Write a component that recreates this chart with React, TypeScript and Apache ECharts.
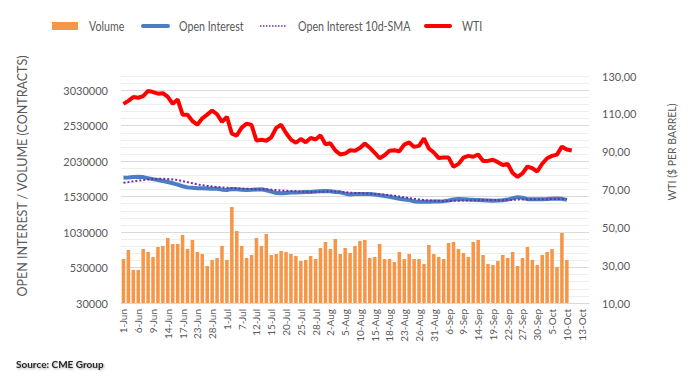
import { useEffect, useRef } from 'react';
import * as echarts from 'echarts';

const categories = [
  '1-Jun','2-Jun','3-Jun','6-Jun','7-Jun','8-Jun','9-Jun','10-Jun','13-Jun','14-Jun','15-Jun','16-Jun','17-Jun','21-Jun','22-Jun','23-Jun','24-Jun','27-Jun','28-Jun','29-Jun','30-Jun',
  '1-Jul','5-Jul','6-Jul','7-Jul','8-Jul','11-Jul','12-Jul','13-Jul','14-Jul','15-Jul','18-Jul','19-Jul','20-Jul','21-Jul','22-Jul','25-Jul','26-Jul','27-Jul','28-Jul','29-Jul',
  '1-Aug','2-Aug','3-Aug','4-Aug','5-Aug','8-Aug','9-Aug','10-Aug','11-Aug','12-Aug','15-Aug','16-Aug','17-Aug','18-Aug','19-Aug','22-Aug','23-Aug','24-Aug','25-Aug','26-Aug','29-Aug','30-Aug','31-Aug',
  '1-Sep','2-Sep','6-Sep','7-Sep','8-Sep','9-Sep','12-Sep','13-Sep','14-Sep','15-Sep','16-Sep','19-Sep','20-Sep','21-Sep','22-Sep','23-Sep','26-Sep','27-Sep','28-Sep','29-Sep','30-Sep',
  '3-Oct','4-Oct','5-Oct','6-Oct','7-Oct','10-Oct','11-Oct','12-Oct','13-Oct','14-Oct'
];

const volume = [
  650000, 777000, 495000, 495000, 791000, 749000, 678000, 820000, 834000, 946000,
  862000, 862000, 989000, 791000, 918000, 749000, 721000, 552000, 636000, 664000,
  834000, 636000, 1383000, 1045000, 834000, 664000, 707000, 946000, 834000, 1003000,
  707000, 721000, 763000, 749000, 721000, 693000, 622000, 636000, 693000, 650000,
  805000, 890000, 791000, 932000, 721000, 805000, 735000, 834000, 904000, 918000,
  664000, 678000, 862000, 650000, 650000, 608000, 749000, 650000, 721000, 650000,
  650000, 580000, 848000, 721000, 678000, 650000, 876000, 890000, 791000, 735000,
  678000, 890000, 918000, 707000, 580000, 566000, 622000, 707000, 664000, 749000,
  552000, 664000, 820000, 636000, 566000, 707000, 749000, 791000, 538000, 1017000,
  636000
];

const openInterest = [
  1796000, 1800000, 1806000, 1810000, 1805000, 1790000, 1776000, 1764000, 1750000, 1736000,
  1718000, 1698000, 1676000, 1660000, 1655000, 1648000, 1646000, 1644000, 1642000, 1640000,
  1628000, 1622000, 1636000, 1632000, 1628000, 1624000, 1626000, 1630000, 1634000, 1620000,
  1600000, 1580000, 1576000, 1582000, 1586000, 1588000, 1590000, 1594000, 1596000, 1602000,
  1606000, 1610000, 1604000, 1596000, 1590000, 1572000, 1560000, 1566000, 1568000, 1566000,
  1567000, 1560000, 1548000, 1538000, 1528000, 1514000, 1500000, 1490000, 1480000, 1462000,
  1458000, 1456000, 1458000, 1460000, 1462000, 1466000, 1474000, 1488000, 1496000, 1494000,
  1488000, 1484000, 1482000, 1480000, 1476000, 1472000, 1474000, 1478000, 1488000, 1506000,
  1522000, 1514000, 1494000, 1492000, 1492000, 1494000, 1496000, 1500000, 1502000, 1498000,
  1484000
];

const openInterestSma = [
  1726000, 1735000, 1745000, 1755000, 1765000, 1772000, 1778000, 1780000, 1780000, 1778000,
  1772000, 1762000, 1748000, 1734000, 1718000, 1702000, 1690000, 1680000, 1672000, 1666000,
  1660000, 1655000, 1650000, 1646000, 1642000, 1640000, 1638000, 1636000, 1634000, 1632000,
  1628000, 1622000, 1616000, 1612000, 1608000, 1604000, 1600000, 1596000, 1594000, 1596000,
  1598000, 1600000, 1602000, 1602000, 1598000, 1592000, 1586000, 1582000, 1580000, 1576000,
  1572000, 1568000, 1564000, 1558000, 1550000, 1542000, 1532000, 1520000, 1508000, 1498000,
  1490000, 1482000, 1476000, 1472000, 1470000, 1468000, 1468000, 1470000, 1472000, 1474000,
  1476000, 1478000, 1480000, 1482000, 1482000, 1482000, 1480000, 1480000, 1482000, 1484000,
  1488000, 1490000, 1492000, 1494000, 1494000, 1494000, 1494000, 1496000, 1496000, 1498000,
  1496000
];

const wti = [
  115.26, 116.87, 118.87, 118.5, 119.41, 122.11, 121.51, 120.67, 120.93, 118.93, 115.31, 117.59, 109.56, 109.52, 106.19, 104.27, 107.62, 109.57, 111.76, 109.78, 105.76,
  108.43, 99.5, 98.53, 102.73, 104.79, 104.09, 95.84, 96.3, 95.78, 97.59, 102.6, 104.22, 99.88, 96.35, 94.7, 96.7, 94.98, 97.26, 96.42, 98.62,
  93.89, 94.42, 90.66, 88.54, 89.01, 90.76, 90.5, 91.93, 94.34, 92.09, 89.41, 86.53, 88.11, 90.5, 90.77, 90.23, 93.74, 94.89, 92.52, 93.06, 97.01, 91.64, 89.55,
  86.61, 86.87, 86.88, 81.94, 83.54, 86.79, 87.78, 87.31, 88.48, 85.1, 85.11, 85.73, 84.45, 82.94, 83.49, 78.74, 76.71, 78.5, 82.15, 81.23, 79.49,
  83.63, 86.52, 87.76, 88.45, 92.64, 91.1, 90.6
];

const leftTicks = { min: 30000, max: 3230000, major: 500000, minor: 100000 };
const rightTicks = { min: 10, max: 130, interval: 20 };

const seriesNames = ['Volume', 'Open Interest', 'Open Interest 10d-SMA', 'WTI'];
const COLORS = { volume: '#F79646', oi: '#4A7EC2', sma: '#7030A0', wti: '#FF0000' };

const FONT = 'Lato, "Noto Sans", sans-serif';
const TXT = '#595959';

export default function App() {
  const ref = useRef<HTMLDivElement>(null);
  useEffect(() => {
    if (!ref.current) return;
    const chart = echarts.init(ref.current, undefined, { renderer: 'svg' });
    const minorPerMajor = leftTicks.major / leftTicks.minor;
    const splitColors: string[] = [];
    for (let i = 0; i < minorPerMajor; i++) splitColors.push(i === 0 ? '#D9D9D9' : '#EEEEEE');
    const legendY = 26;
    const legendText = (text: string, x: number) => ({
      type: 'text',
      x,
      y: legendY,
      scaleX: 0.82,
      style: { text, fontFamily: FONT, fontSize: 13, fill: TXT, verticalAlign: 'middle' },
    });
    chart.setOption({
      animation: false,
      textStyle: { fontFamily: FONT },
      legend: { show: false, data: seriesNames },
      grid: { left: 121, right: 109, top: 76, height: 227 },
      xAxis: {
        type: 'category',
        data: categories,
        boundaryGap: true,
        axisLine: { lineStyle: { color: '#D9D9D9' } },
        axisTick: { interval: 0, length: 4, lineStyle: { color: '#D9D9D9' } },
        axisLabel: { interval: 2, rotate: 90, fontSize: 10, color: TXT, fontFamily: FONT, margin: 6 },
        splitLine: { show: false },
      },
      yAxis: [
        {
          type: 'value',
          min: leftTicks.min,
          max: leftTicks.max,
          interval: leftTicks.minor,
          axisLine: { show: false },
          axisTick: { show: false },
          axisLabel: {
            fontSize: 11,
            color: TXT,
            fontFamily: FONT,
            margin: 13,
            formatter: (v: number) => (Math.round(v - leftTicks.min) % leftTicks.major === 0 ? String(Math.round(v)) : ''),
          },
          splitLine: { show: true, lineStyle: { color: splitColors, width: 1 } },
        },
        {
          type: 'value',
          min: rightTicks.min,
          max: rightTicks.max,
          interval: rightTicks.interval,
          position: 'right',
          axisLine: { show: false },
          axisTick: { show: false },
          splitLine: { show: false },
          axisLabel: {
            fontSize: 11,
            color: TXT,
            fontFamily: FONT,
            margin: 13,
            formatter: (v: number) => v.toFixed(2).replace('.', ','),
          },
        },
      ],
      series: [
        {
          name: seriesNames[0],
          type: 'bar',
          data: volume,
          yAxisIndex: 0,
          barCategoryGap: '28%',
          itemStyle: { color: COLORS.volume },
        },
        {
          name: seriesNames[1],
          type: 'line',
          data: openInterest,
          yAxisIndex: 0,
          symbol: 'none',
          lineStyle: { color: COLORS.oi, width: 4 },
          itemStyle: { color: COLORS.oi },
        },
        {
          name: seriesNames[2],
          type: 'line',
          data: openInterestSma,
          yAxisIndex: 0,
          symbol: 'none',
          lineStyle: { color: COLORS.sma, width: 2, type: [2, 2] },
          itemStyle: { color: COLORS.sma },
        },
        {
          name: seriesNames[3],
          type: 'line',
          data: wti,
          yAxisIndex: 1,
          symbol: 'none',
          lineStyle: { color: COLORS.wti, width: 4 },
          itemStyle: { color: COLORS.wti },
        },
      ],
      graphic: [
        { type: 'rect', shape: { x: 52, y: 22, width: 26, height: 8 }, style: { fill: COLORS.volume } },
        legendText(seriesNames[0], 89),
        { type: 'line', shape: { x1: 143, y1: legendY, x2: 168, y2: legendY }, style: { stroke: COLORS.oi, lineWidth: 4, lineCap: 'round' } },
        legendText(seriesNames[1], 179),
        { type: 'line', shape: { x1: 260, y1: legendY, x2: 287, y2: legendY }, style: { stroke: COLORS.sma, lineWidth: 1.5, lineDash: [1.5, 1.5] } },
        legendText(seriesNames[2], 298),
        { type: 'line', shape: { x1: 426, y1: legendY, x2: 450, y2: legendY }, style: { stroke: COLORS.wti, lineWidth: 4, lineCap: 'round' } },
        legendText(seriesNames[3], 462),
        {
          type: 'text',
          x: 22,
          y: 176,
          rotation: Math.PI / 2,
          style: {
            text: 'OPEN INTEREST / VOLUME (CONTRACTS)',
            fontFamily: FONT,
            fontSize: 12.5,
            fill: TXT,
            align: 'center',
            verticalAlign: 'middle',
          },
        },
        {
          type: 'text',
          x: 672,
          y: 152,
          rotation: Math.PI / 2,
          style: {
            text: 'WTI ($ PER BARREL)',
            fontFamily: FONT,
            fontSize: 10.5,
            fill: TXT,
            align: 'center',
            verticalAlign: 'middle',
          },
        },
        {
          type: 'text',
          x: 16,
          y: 364,
          style: {
            text: 'Source: CME Group',
            fontFamily: FONT,
            fontSize: 10,
            fontWeight: 'bold',
            fill: '#262626',
            verticalAlign: 'middle',
            textShadowColor: 'rgba(0,0,0,0.35)',
            textShadowBlur: 2,
            textShadowOffsetX: 1,
            textShadowOffsetY: 1,
          },
        },
      ],
    });
    return () => chart.dispose();
  }, []);
  return <div ref={ref} style={{ width: 698, height: 382, position: 'absolute', left: 0, top: 0 }} />;
}
